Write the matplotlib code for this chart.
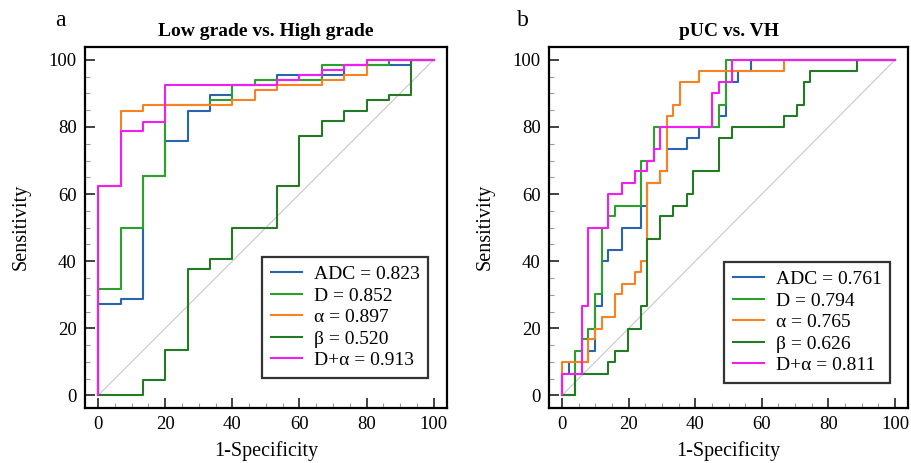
"""ROC curves for DWI parameters: low vs. high grade and pUC vs. VH."""

import matplotlib

matplotlib.use("Agg")
import matplotlib.pyplot as plt
from matplotlib.ticker import MultipleLocator

plt.rcParams["font.family"] = ["Liberation Serif", "DejaVu Serif"]

# Panel a: Low grade vs. High grade (1-specificity, sensitivity in %)
adc_a_fpr = [0, 0, 6.7, 13.3, 20, 26.7, 33.3, 40, 53.3, 73.3, 93.3, 100]
adc_a_tpr = [0, 27.3, 28.8, 65.3, 75.7, 84.9, 89.6, 92.4, 95.5, 98.5, 100, 100]
d_a_fpr = [0, 0, 6.7, 13.3, 20, 33.3, 40, 46.7, 66.7, 86.7, 100]
d_a_tpr = [0, 31.8, 49.9, 65.3, 86.4, 88.1, 92.4, 94.0, 98.5, 100, 100]
alpha_a_fpr = [0, 0, 6.7, 13.3, 40, 46.7, 53.3, 66.7, 73.3, 80, 100]
alpha_a_tpr = [0, 62.3, 84.9, 86.4, 87.9, 90.9, 92.4, 94.0, 95.5, 100, 100]
beta_a_fpr = [0, 13.3, 20, 26.7, 33.3, 40, 53.3, 60, 66.7, 73.3, 80, 86.7, 93.3, 100]
beta_a_tpr = [0, 4.5, 13.5, 37.8, 40.8, 49.9, 62.3, 77.4, 81.9, 84.9, 87.9, 89.6, 100, 100]
dalpha_a_fpr = [0, 0, 6.7, 13.3, 20, 53.3, 60, 66.7, 73.3, 80, 100]
dalpha_a_tpr = [0, 62.3, 78.9, 81.6, 92.4, 94.0, 95.5, 97.0, 98.5, 100, 100]
auc_a = ["0.823", "0.852", "0.897", "0.520", "0.913"]

# Panel b: pUC vs. VH
adc_b_fpr = [0, 0, 2, 7.9, 9.9, 11.9, 13.9, 17.9, 23.8, 25.5, 29.5, 31.4, 37.4, 41.2,
             47.1, 49.1, 52.8, 56.7, 100]
adc_b_tpr = [0, 6.5, 9.9, 13.4, 26.6, 40, 43.3, 49.9, 56.6, 63.3, 66.8, 73.4, 76.7, 80,
             83.3, 93.3, 96.7, 100, 100]
d_b_fpr = [0, 4, 6, 7.9, 9.9, 11.9, 13.9, 15.9, 23.8, 27.5, 47.1, 49.1, 100]
d_b_tpr = [0, 13.4, 16.7, 19.9, 30.1, 49.9, 53.4, 56.6, 70, 80, 86.6, 100, 100]
alpha_b_fpr = [0, 0, 7.9, 9.9, 11.9, 15.9, 17.9, 21.8, 23.8, 25.5, 29.5, 31.4, 33.4,
               35.4, 41.2, 66.7, 100]
alpha_b_tpr = [0, 9.9, 16.7, 19.9, 23.4, 30.1, 33.3, 36.7, 40, 63.3, 66.8, 83.3, 86.6,
               93.3, 96.7, 100, 100]
beta_b_fpr = [0, 4, 13.9, 15.9, 19.8, 23.8, 25.5, 29.5, 33.4, 37.4, 39.4, 47.1, 51.1,
              66.7, 70.6, 72.6, 74.6, 88.5, 100]
beta_b_tpr = [0, 6.5, 9.9, 13.4, 19.9, 26.6, 46.6, 53.4, 56.6, 60, 66.8, 76.7, 80,
              83.3, 86.6, 93.3, 96.7, 100, 100]
dalpha_b_fpr = [0, 0, 6, 7.9, 13.9, 17.9, 21.8, 25.5, 27.5, 29.5, 45.1, 47.1, 51.1, 100]
dalpha_b_tpr = [0, 6.5, 26.6, 49.9, 60, 63.3, 66.8, 70, 73.4, 80, 90.1, 93.3, 100, 100]
auc_b = ["0.761", "0.794", "0.765", "0.626", "0.811"]

names = ["ADC", "D", "\u03b1", "\u03b2", "D+\u03b1"]
colors = ["#2a64ac", "#2ca02c", "#f7821f", "#237a23", "#f21df2"]


def draw_panel(axis, curves, aucs, title, letter, letter_x, legend_anchor):
    axis.plot([0, 100], [0, 100], color="#c8c8c8", lw=0.8, zorder=1)
    for (fpr, tpr), name, auc, color in zip(curves, names, aucs, colors):
        axis.step(fpr, tpr, where="post", color=color, lw=1.5, label=f"{name} = {auc}")
    axis.set_xlim(-3.9, 104)
    axis.set_ylim(-3.7, 103.9)
    axis.xaxis.set_major_locator(MultipleLocator(20))
    axis.yaxis.set_major_locator(MultipleLocator(20))
    axis.xaxis.set_minor_locator(MultipleLocator(5))
    axis.yaxis.set_minor_locator(MultipleLocator(5))
    axis.tick_params(which="major", direction="in", length=7, width=1.3, labelsize=13.5,
                     color="#333333", pad=6)
    axis.tick_params(which="minor", direction="in", length=3.5, width=0.8, color="#999999")
    for spine in axis.spines.values():
        spine.set_linewidth(1.6)
    axis.set_xlabel("1-Specificity", fontsize=14.5, labelpad=6)
    axis.set_ylabel("Sensitivity", fontsize=14.5, labelpad=13)
    axis.set_title(title, fontsize=14, fontweight="bold", pad=8)
    axis.text(letter_x, 1.072, letter, transform=axis.transAxes, fontsize=17, va="center")
    legend = axis.legend(loc="lower right", bbox_to_anchor=legend_anchor, borderaxespad=0,
                         fontsize=14, fancybox=False, framealpha=1, handlelength=1.6,
                         handletextpad=0.6, labelspacing=0.2, borderpad=0.45)
    legend.get_frame().set_edgecolor("#333333")
    legend.get_frame().set_linewidth(1.6)


figure = plt.figure(figsize=(9.12, 4.63), dpi=100)
left = figure.add_axes([0.0932, 0.119, 0.397, 0.78])
right = figure.add_axes([0.602, 0.119, 0.394, 0.78])

draw_panel(
    left,
    [(adc_a_fpr, adc_a_tpr), (d_a_fpr, d_a_tpr), (alpha_a_fpr, alpha_a_tpr),
     (beta_a_fpr, beta_a_tpr), (dalpha_a_fpr, dalpha_a_tpr)],
    auc_a, "Low grade vs. High grade", "a", -0.083, (0.948, 0.083),
)
draw_panel(
    right,
    [(adc_b_fpr, adc_b_tpr), (d_b_fpr, d_b_tpr), (alpha_b_fpr, alpha_b_tpr),
     (beta_b_fpr, beta_b_tpr), (dalpha_b_fpr, dalpha_b_tpr)],
    auc_b, "pUC vs. VH", "b", -0.089, (0.95, 0.069),
)

figure.savefig("out.png", dpi=100)
